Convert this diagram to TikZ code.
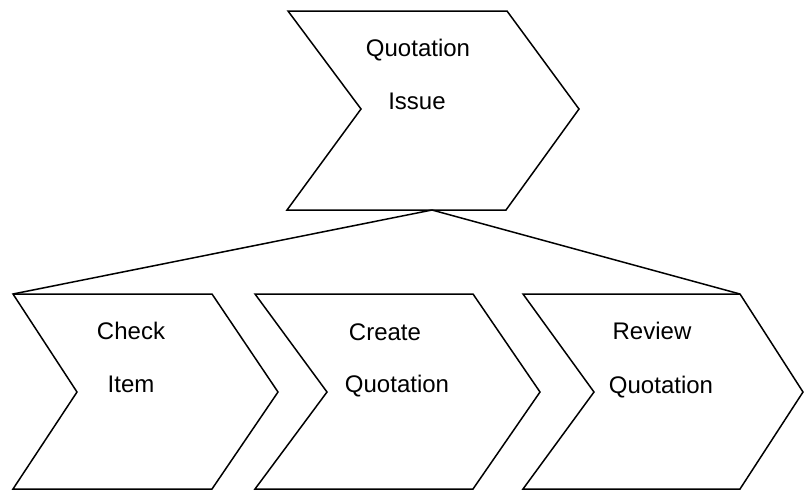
\documentclass[tikz,border=0pt]{standalone}
\usepackage{fontspec}
\setmainfont{Liberation Sans}
\begin{document}
\begin{tikzpicture}[x=1pt,y=-1pt,line width=1.5pt,line join=miter,
    label text/.style={anchor=base,inner sep=0pt,font=\fontsize{24}{27}\selectfont},
    chevron/.style={draw,fill=white}]
    \useasboundingbox (0,0) rectangle (805,491);

    % top chevron
    \draw[chevron] (288,11) -- (507,11) -- (579,109) -- (506,210) -- (287,210) -- (361,109) -- cycle;
    \coordinate (issue bottom) at (432,210);
    \node[label text] (issue1) at (418,56) {Quotation};
    \node[label text] (issue2) at (417,109) {Issue};

    % lower chevrons
    \draw[chevron] (13,294) -- (212,294) -- (278,392) -- (212,489) -- (13,489) -- (77,392) -- cycle;
    \draw[chevron] (255,294) -- (473,294) -- (540,392) -- (473,489) -- (255,489) -- (327,392) -- cycle;
    \draw[chevron] (523,294) -- (740,294) -- (803,392) -- (740,489) -- (523,489) -- (594,392) -- cycle;
    \coordinate (check corner) at (13,294);
    \coordinate (review corner) at (740,294);

    \node[label text] (check1) at (131,339) {Check};
    \node[label text] (check2) at (131,392) {Item};
    \node[label text] (create1) at (385,340) {Create};
    \node[label text] (create2) at (397,392) {Quotation};
    \node[label text] (review1) at (652,339) {Review};
    \node[label text] (review2) at (661,393) {Quotation};

    \draw (issue bottom) -- (check corner);
    \draw (issue bottom) -- (review corner);
\end{tikzpicture}
\end{document}
